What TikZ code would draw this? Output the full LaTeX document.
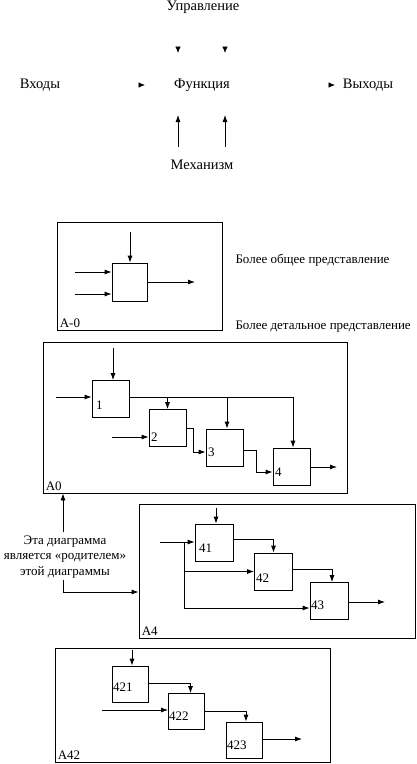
\documentclass[tikz,border=0pt]{standalone}
\usepackage{fontspec}
\setmainfont{Liberation Serif}
\usetikzlibrary{arrows.meta,calc,positioning}

\begin{document}
\begin{tikzpicture}[x=1pt,y=-1pt, every node/.style={font=\fontsize{13}{15.5}\selectfont},
  t/.style={font=\fontsize{14.5}{17}\selectfont},
  b/.style={draw,line width=0.8pt,minimum width=37pt,minimum height=37pt,inner sep=0pt},
  fr/.style={draw,line width=0.8pt,inner sep=0pt},
  lb/.style={anchor=west,inner sep=1pt},
  nm/.style={anchor=south west,inner sep=3pt},
  a/.style={-{Latex[length=7pt,width=5pt]},line width=0.8pt},
  hd/.style={-{Latex[length=6.5pt,width=5.5pt]},line width=0.8pt}]
  \useasboundingbox (0,0) rectangle (417,764);
  % function block with its four kinds of arrows
  \node[t] (upr) at (203,7) {Управление};
  \node[t] (vh) at (40,85) {Входы};
  \node[t] (fn) at (202,85) {Функция};
  \node[t] (vyh) at (368,85) {Выходы};
  \node[t] (meh) at (202,165) {Механизм};
  \coordinate (u1) at (178,46.5); \coordinate (u1e) at (178,53);
  \coordinate (u2) at (225,46.5); \coordinate (u2e) at (225,53);
  \coordinate (i1) at (138.5,85); \coordinate (i1e) at (145,85);
  \coordinate (o1) at (328.5,85); \coordinate (o1e) at (335,85);
  \draw[hd] (u1) -- (u1e); \draw[hd] (u2) -- (u2e);
  \draw[hd] (i1) -- (i1e); \draw[hd] (o1) -- (o1e);
  \coordinate (m1) at (178,147); \coordinate (m1e) at (178,115);
  \coordinate (m2) at (225,147); \coordinate (m2e) at (225,115);
  \draw[a] (m1) -- (m1e); \draw[a] (m2) -- (m2e);
  % A-0
  \node[fr,minimum width=165pt,minimum height=108pt] (fra) at (139.5,276) {};
  \node[nm] (na) at (fra.south west) {А-0};
  \node[b,minimum width=35pt,minimum height=38pt] (g) at (129.5,282) {};
  \coordinate (ca) at (130,232); \coordinate (cb) at (75,272);
  \coordinate (cc) at (75,294); \coordinate (cd) at (195,282);
  \draw[a] (ca) -- (ca |- g.north);
  \draw[a] (cb) -- (cb -| g.west); \draw[a] (cc) -- (cc -| g.west);
  \draw[a] (g.east) -- (cd);
  \node[anchor=west] (obsh) at (232,260) {Более общее представление};
  \node[anchor=west] (det) at (232,327) {Более детальное представление};
  % A0
  \node[fr,minimum width=304pt,minimum height=151pt] (fr0) at (195,417.5) {};
  \node[nm] (n0) at (fr0.south west) {А0};
  \node[b] (f1) at (110.5,399) {};
  \node[b] (f2) at (167.5,428) {};
  \node[b] (f3) at (224.5,447.5) {};
  \node[b] (f4) at (291.5,466.5) {};
  \node[lb] (l1) at (95,405) {1};
  \node[lb] (l2) at (150,437) {2};
  \node[lb] (l3) at (207,452) {3};
  \node[lb] (l4) at (274,472) {4};
  \coordinate (c1) at (113,348); \coordinate (c2) at (56,397);
  \coordinate (c3) at (112,437); \coordinate (c4) at (337,467);
  \draw[a] (c1) -- (c1 |- f1.north);
  \draw[a] (c2) -- (c2 -| f1.west);
  \draw[a] ([yshift=2pt]f1.east) -| ([xshift=1.5pt]f4.north);
  \draw[a] (f2.north |- c2) -- (f2.north);
  \draw[a] ([xshift=2.5pt]f3.north |- c2) -- ([xshift=2.5pt]f3.north);
  \draw[a] (c3) -- (c3 -| f2.west);
  \draw[a] (f2.east) -- ++(7,0) |- ([yshift=-4.5pt]f3.west);
  \draw[a] ([yshift=-2.5pt]f3.east) -- ++(13,0) |- ([yshift=-5.5pt]f4.west);
  \draw[a] (c4 -| f4.east) -- (c4);
  % parent note
  \node[align=center] (par) at (65,557) {Эта диаграмма\\является «родителем»\\этой диаграммы};
  \coordinate (p1) at (63,532); \coordinate (p2) at (63,580);
  \draw[a] (p1) -- (p1 |- fr0.south);
  % A4
  \node[fr,minimum width=276pt,minimum height=134pt] (fr4) at (277,571) {};
  \node[nm] (n4) at (fr4.south west) {А4};
  \draw[a] (p2) |- ([yshift=-21pt]fr4.west);
  \node[b,minimum width=38pt] (f41) at (214,542.5) {};
  \node[b,minimum width=38pt] (f42) at (273.5,571.5) {};
  \node[b,minimum width=38pt] (f43) at (329,601) {};
  \node[lb] (l41) at (198,548) {41};
  \node[lb] (l42) at (255,578) {42};
  \node[lb] (l43) at (310,605) {43};
  \coordinate (c41) at (216,508); \coordinate (c42) at (160,542);
  \coordinate (j) at (184,542); \coordinate (c43) at (385,602);
  \draw[a] (c41) -- (c41 |- f41.north);
  \draw[a] (c42) -- (c42 -| f41.west);
  \draw[a] (j) |- ([yshift=-7pt]f43.west);
  \draw[a] (j |- f42.west) -- (f42.west);
  \draw[a] ([yshift=3.5pt]f41.east) -| (f42.north);
  \draw[a] ([yshift=2.5pt]f42.east) -| ([xshift=3pt]f43.north);
  \draw[a] (c43 -| f43.east) -- (c43);
  % A42
  \node[fr,minimum width=275pt,minimum height=114pt] (fr42) at (192.5,705) {};
  \node[nm] (n42) at (fr42.south west) {А42};
  \node[b,minimum width=36pt,minimum height=36pt] (f421) at (130,684) {};
  \node[b,minimum width=36pt,minimum height=36pt] (f422) at (186.5,711.5) {};
  \node[b,minimum width=36pt,minimum height=36pt] (f423) at (244,740) {};
  \node[lb] (l421) at (112,687) {421};
  \node[lb] (l422) at (168,716) {422};
  \node[lb] (l423) at (226,745) {423};
  \coordinate (c5) at (132,650); \coordinate (c6) at (102,710);
  \coordinate (c7) at (302,739);
  \draw[a] (c5) -- (c5 |- f421.north);
  \draw[a] ([yshift=1pt]f421.east) -| ([xshift=4pt]f422.north);
  \draw[a] (c6) -- (c6 -| f422.west);
  \draw[a] (f422.east) -| ([xshift=2pt]f423.north);
  \draw[a] (c7 -| f423.east) -- (c7);
\end{tikzpicture}
\end{document}
